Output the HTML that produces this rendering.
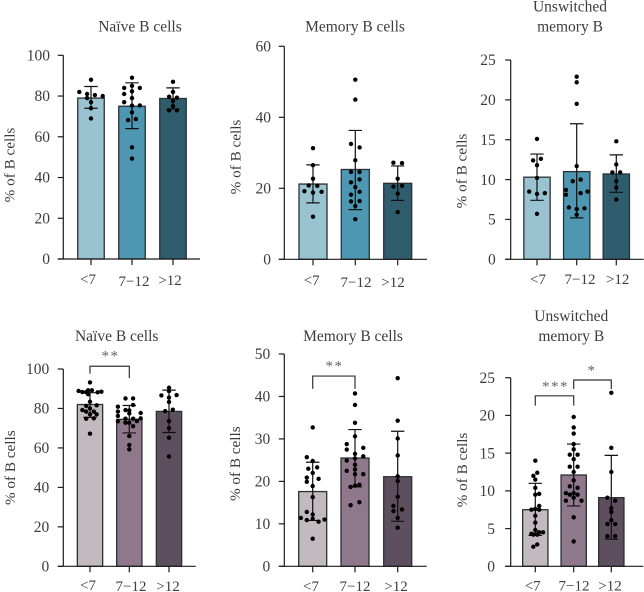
<!DOCTYPE html>
<html>
<head>
<meta charset="utf-8">
<title>B cell subsets by age group</title>
<style>
html,body{margin:0;padding:0;background:#fff;width:644px;height:592px;overflow:hidden}
svg{display:block}
text{font-family:"Liberation Serif",serif;fill:#3c3c3c}
</style>
</head>
<body>
<svg id="figure" width="644" height="592" viewBox="0 0 644 592" xmlns="http://www.w3.org/2000/svg"></svg>
<script>
const categories = ['<7', '7\u221212', '>12'];

const topNaiveTicks = [0, 20, 40, 60, 80, 100];
const topNaiveMeans = [79, 75, 78.8];
const topNaiveLow = [74, 64, 73.6];
const topNaiveHigh = [84.7, 86.5, 84];
const topNaiveValuesA = [88, 82, 81, 80.5, 80, 79, 77, 74, 69];
const topNaiveSlotsA = [0, -3, -1, 1, 3, -1, 0, 0, 0];
const topNaiveValuesB = [89, 85, 84, 84, 82.3, 81, 79, 77, 75.4, 75.3, 72, 68.7, 68.2, 54.8, 49.3];
const topNaiveSlotsB = [0, 0, -2, 2, 0, -2, 0, -2, 2, 0, 0, 1, -1, 0, 0];
const topNaiveValuesC = [87, 82, 79.7, 79.2, 77.6, 75, 73, 73];
const topNaiveSlotsC = [0, 0, -1, 1, 0, 0, -1, 1];

const topMemoryTicks = [0, 20, 40, 60];
const topMemoryMeans = [21.2, 25.3, 21.4];
const topMemoryLow = [15.9, 14, 16.6];
const topMemoryHigh = [26.6, 36.3, 26.3];
const topMemoryValuesA = [31.3, 26.5, 22.7, 20.8, 20.7, 19.2, 19, 18.8, 12];
const topMemorySlotsA = [0, 0, 0, -1, 1, -2, 2, 0, 0];
const topMemoryValuesB = [50.6, 45, 32.5, 31.5, 27.9, 24.6, 24.6, 22.5, 21.7, 20.3, 19, 18.2, 16.4, 16.3, 15, 11.3];
const topMemorySlotsB = [0, 0, -1, 1, 0, -1, 1, 1, -1, 0, 1, -1, 1, -1, 0, 0];
const topMemoryValuesC = [27.2, 27.1, 22.7, 20.7, 20.5, 18.5, 13.3];
const topMemorySlotsC = [-1, 1, 0, 1, -1, 0, 0];

const topUnswitchedTicks = [0, 5, 10, 15, 20, 25];
const topUnswitchedMeans = [10.3, 11, 10.7];
const topUnswitchedLow = [7.4, 5.2, 8.4];
const topUnswitchedHigh = [13.2, 17, 13.1];
const topUnswitchedValuesA = [15.1, 12.6, 12.4, 11.8, 10.2, 8.5, 8.3, 8.2, 5.7];
const topUnswitchedSlotsA = [0, 1, -1, 0, 0, -2, 2, 0, 0];
const topUnswitchedValuesB = [22.9, 22.2, 19.5, 11.7, 10, 9.8, 8.7, 8.5, 8.3, 8.1, 6.5, 6.4, 6.3, 5.6];
const topUnswitchedSlotsB = [0, 0, 0, 0, 1, -1, -2.75, 2.75, 1, -2.75, -2, 2, 0, 0];
const topUnswitchedValuesC = [14.8, 11.9, 10.9, 10.9, 9.8, 9, 7.5];
const topUnswitchedSlotsC = [0, 0, -1, 1, 0, 0, 0];

const bottomNaiveTicks = [0, 20, 40, 60, 80, 100];
const bottomNaiveMeans = [82, 74.5, 78.5];
const bottomNaiveLow = [75.5, 67.6, 67.8];
const bottomNaiveHigh = [88, 81.5, 89.3];
const bottomNaiveValuesA = [93.2, 89.2, 89.2, 88.9, 88.5, 88.3, 88.3, 88.2, 87.2, 83.4, 81.6, 81.3, 80, 79.2, 78.4, 78.4, 77, 77, 75, 74.8, 67.2];
const bottomNaiveSlotsA = [0, -0.5, 0.5, -3, 3, -2, -1, 2, -0.5, 0, 1.75, -1, 0, -2, -1, 1, 0, 1.75, 1, -1, 0];
const bottomNaiveValuesB = [85.1, 85.1, 81.8, 80.9, 79.2, 79, 78.4, 77.7, 77.5, 76.2, 75, 74.8, 74.8, 73.6, 73.5, 72.8, 72.8, 71, 66, 61.5, 59.3];
const bottomNaiveSlotsB = [-1, 1, 1, -3, -1, 0, -3, 3, 0, -3, 3, -1, 1, 2, -3, -1, 0, 1, 0, 0, 0];
const bottomNaiveValuesC = [90.5, 88.8, 86.8, 86.6, 85.5, 83.3, 79.4, 78.7, 73.6, 70, 65.2, 55.7];
const bottomNaiveSlotsC = [0, 0, 2, -2, 0, 0, 1, -1, 0, 0, 0, 0];

const bottomMemoryTicks = [0, 10, 20, 30, 40, 50];
const bottomMemoryMeans = [17.6, 25.5, 21.1];
const bottomMemoryLow = [10.8, 18.7, 10.6];
const bottomMemoryHigh = [24.5, 32.2, 31.8];
const bottomMemoryValuesA = [32.7, 25.7, 24.8, 23.3, 23, 22, 20.9, 20.6, 19.9, 18.9, 16.3, 12.8, 12.2, 11.4, 11.2, 11, 10.9, 10.5, 6.5];
const bottomMemorySlotsA = [0, -1, 0, 0.75, -0.75, 0, -1, 1, -1, 0, 0, -1, 0, -2, 0, 2, -1, 1, 0];
const bottomMemoryValuesB = [40.7, 38, 33.8, 30.6, 28.8, 27.9, 27.5, 26.5, 25.9, 25.4, 24.9, 23.9, 22.8, 22.5, 21.7, 21.7, 19.2, 19, 18.7, 15.1, 14.4];
const bottomMemorySlotsB = [0, 0, 0, 0, -1.4, 1.4, -1.4, 0, 1.4, 0, -1.4, 0, 0, -1.4, 0, 1.4, 0.75, 0, -0.75, 0.75, -0.75];
const bottomMemoryValuesC = [44.3, 34.3, 30.1, 26.1, 21.2, 20.1, 16.4, 14.2, 13.4, 13, 11.4, 9.1];
const bottomMemorySlotsC = [0, 0, 0, 0, 0, 0, 0, -0.73, 0.73, -0.73, 0, 0];

const bottomUnswitchedTicks = [0, 5, 10, 15, 20, 25];
const bottomUnswitchedMeans = [7.5, 12.1, 9.1];
const bottomUnswitchedLow = [4.1, 8, 3.6];
const bottomUnswitchedHigh = [11, 16.2, 14.7];
const bottomUnswitchedValuesA = [14, 12.4, 12, 11.5, 10.4, 9.6, 9.5, 8, 7.6, 7.5, 7.5, 6.7, 5.8, 4.8, 4.5, 4.5, 4.3, 4.2, 4.2, 2.9, 2.6];
const bottomUnswitchedSlotsA = [0, 0.5, -0.5, 0, 0, 1, 0, 1, 0, -1, 1, 0, 0, 0, 1, 2, -1, -0.5, 0.5, 0.5, -0.5];
const bottomUnswitchedValuesB = [19.8, 18.4, 17.6, 16.2, 15.5, 14.8, 14.8, 14.2, 13.2, 13.2, 12.5, 11.4, 10.6, 10.4, 9.7, 9.7, 9.5, 9.5, 9.1, 8.7, 8.7, 6.5, 3.3];
const bottomUnswitchedSlotsB = [0, 0, 0, 0, 0, -1, 1, 0, -1, 1, 0, 0, -1, 1, 0, -2, -1, 1, 0, -2, 2, 0, 0];
const bottomUnswitchedValuesC = [23, 15.7, 12.5, 9.1, 8.7, 7.7, 7.2, 6.1, 5.6, 5.6, 4, 4];
const bottomUnswitchedSlotsC = [0, 0, 0, -1, 1, 0, 0, 0, -1, 1, -1, 1];

const bottomNaiveBracketTop = [101.4];
const bottomNaiveBracketFootL = [97.6];
const bottomNaiveBracketFootR = [95.4];
const bottomMemoryBracketTop = [44.8];
const bottomMemoryBracketFootL = [41.8];
const bottomMemoryBracketFootR = [41.8];
const bottomUnswitchedBracketTop = [22.6, 24.7];
const bottomUnswitchedBracketFootL = [21.3, 23.5];
const bottomUnswitchedBracketFootR = [21.3, 23.5];

const tealFills = ['#9ac3d2', '#4e97b3', '#2f5d6e'];
const mauveFills = ['#c2babe', '#8f778c', '#5e4f5f'];

const panels = [
  {id:'naive-top', title:['Na\u00efve B cells'], titleX:140, titleY:31.7, axisX:63.3, xEnd:200, y0:259, yTop:55.3, max:100, ticks:topNaiveTicks,
   centers:[91,132,173], barW:26.5, labelX:[88,134,170], labelY:[284,286,285], tickLabelX:50, yTitleX:14.5, yTitleY:165,
   fills:tealFills, means:topNaiveMeans, low:topNaiveLow, high:topNaiveHigh,
   values:[topNaiveValuesA,topNaiveValuesB,topNaiveValuesC], slots:[topNaiveSlotsA,topNaiveSlotsB,topNaiveSlotsC], slotW:3.9, brackets:[]},
  {id:'memory-top', title:['Memory B cells'], titleX:355, titleY:31.7, axisX:284.3, xEnd:427, y0:259.3, yTop:46.3, max:60, ticks:topMemoryTicks,
   centers:[313,355.3,397.7], barW:28, labelX:[311.7,356,393], labelY:[285,287,287], tickLabelX:271, yTitleX:240.5, yTitleY:157,
   fills:tealFills, means:topMemoryMeans, low:topMemoryLow, high:topMemoryHigh,
   values:[topMemoryValuesA,topMemoryValuesB,topMemoryValuesC], slots:[topMemorySlotsA,topMemorySlotsB,topMemorySlotsC], slotW:4.3, brackets:[]},
  {id:'unswitched-top', title:['Unswitched','memory B'], titleX:570, titleY:31.7, axisX:510.7, xEnd:643.7, y0:259.3, yTop:60, max:25, ticks:topUnswitchedTicks,
   centers:[537,576.7,616.3], barW:26.3, labelX:[538,580,617.7], labelY:[284,284,284], tickLabelX:495.7, yTitleX:466.5, yTitleY:171,
   fills:tealFills, means:topUnswitchedMeans, low:topUnswitchedLow, high:topUnswitchedHigh,
   values:[topUnswitchedValuesA,topUnswitchedValuesB,topUnswitchedValuesC], slots:[topUnswitchedSlotsA,topUnswitchedSlotsB,topUnswitchedSlotsC], slotW:3.9, brackets:[]},
  {id:'naive-bottom', title:['Na\u00efve B cells'], titleX:116.7, titleY:341, axisX:63.3, xEnd:195.7, y0:566.3, yTop:369, max:100, ticks:bottomNaiveTicks,
   centers:[90,129.3,169], barW:25.3, labelX:[88,131,168], labelY:[590,591,591], tickLabelX:49.3, yTitleX:15, yTitleY:467.7,
   fills:mauveFills, means:bottomNaiveMeans, low:bottomNaiveLow, high:bottomNaiveHigh,
   values:[bottomNaiveValuesA,bottomNaiveValuesB,bottomNaiveValuesC], slots:[bottomNaiveSlotsA,bottomNaiveSlotsB,bottomNaiveSlotsC], slotW:3.8,
   brackets:[{a:0,b:1,top:bottomNaiveBracketTop[0],l:bottomNaiveBracketFootL[0],r:bottomNaiveBracketFootR[0],stars:'**',sx:110.5,sy:360.5}]},
  {id:'memory-bottom', title:['Memory B cells'], titleX:353, titleY:341, axisX:284.3, xEnd:426.7, y0:566.3, yTop:354, max:50, ticks:bottomMemoryTicks,
   centers:[312.7,355,397.7], barW:28, labelX:[311,355,396], labelY:[591,591,591], tickLabelX:270.3, yTitleX:240, yTitleY:463.7,
   fills:mauveFills, means:bottomMemoryMeans, low:bottomMemoryLow, high:bottomMemoryHigh,
   values:[bottomMemoryValuesA,bottomMemoryValuesB,bottomMemoryValuesC], slots:[bottomMemorySlotsA,bottomMemorySlotsB,bottomMemorySlotsC], slotW:5.9,
   brackets:[{a:0,b:1,top:bottomMemoryBracketTop[0],l:bottomMemoryBracketFootL[0],r:bottomMemoryBracketFootR[0],stars:'**',sx:334.5,sy:370.5}]},
  {id:'unswitched-bottom', title:['Unswitched','memory B'], titleX:571.3, titleY:341, axisX:510.7, xEnd:643.3, y0:566.3, yTop:377.7, max:25, ticks:bottomUnswitchedTicks,
   centers:[535.3,573.7,611.3], barW:25.3, labelX:[532.7,574,610], labelY:[590.7,590.7,590.7], tickLabelX:495, yTitleX:467, yTitleY:470,
   fills:mauveFills, means:bottomUnswitchedMeans, low:bottomUnswitchedLow, high:bottomUnswitchedHigh,
   values:[bottomUnswitchedValuesA,bottomUnswitchedValuesB,bottomUnswitchedValuesC], slots:[bottomUnswitchedSlotsA,bottomUnswitchedSlotsB,bottomUnswitchedSlotsC], slotW:3.9,
   brackets:[{a:0,b:1,top:bottomUnswitchedBracketTop[0],l:bottomUnswitchedBracketFootL[0],r:bottomUnswitchedBracketFootR[0],stars:'***',sx:555.5,sy:391},
             {a:1,b:2,top:bottomUnswitchedBracketTop[1],l:bottomUnswitchedBracketFootL[1],r:bottomUnswitchedBracketFootR[1],stars:'*',sx:592,sy:375}]}
];

const svg = document.getElementById('figure');
const NS = 'http://www.w3.org/2000/svg';

function make(parent, tag, attrs) {
  const el = document.createElementNS(NS, tag);
  for (const k in attrs) el.setAttribute(k, attrs[k]);
  parent.appendChild(el);
  return el;
}

function drawPanel(p) {
  const yScale = v => p.y0 - (v / p.max) * (p.y0 - p.yTop);
  const xBand = i => p.centers[i];
  const ink = '#1c1c1c';

  const g = make(svg, 'g', {});
  
  

  p.title.forEach((line, i) => {
    const t = make(g, 'text', {x:p.titleX, y:p.titleY - (p.title.length - 1 - i) * 20, 'text-anchor':'middle', 'font-size':15.5});
    
    
    t.textContent = line;
  });

  const yt = make(g, 'text', {x:0, y:0, 'text-anchor':'middle', 'font-size':15.2, transform:`translate(${p.yTitleX},${p.yTitleY}) rotate(-90)`});
  
  
  yt.textContent = '% of B cells';

  categories.forEach((c, i) => {
    const bar = make(g, 'rect', {x:xBand(i) - p.barW / 2, y:yScale(p.means[i]), width:p.barW, height:p.y0 - yScale(p.means[i]), fill:p.fills[i], stroke:'#2b3033', 'stroke-width':1.3});
    
    
  });

  categories.forEach((c, i) => {
    const err = make(g, 'path', {
      d:`M${xBand(i)} ${yScale(p.low[i])}V${yScale(p.high[i])}M${xBand(i) - 6.7} ${yScale(p.low[i])}h13.4M${xBand(i) - 6.7} ${yScale(p.high[i])}h13.4`,
      fill:'none', stroke:'#111', 'stroke-width':1.2});
    
    
  });

  categories.forEach((c, i) => {
    p.values[i].forEach((v, j) => {
      const dot = make(g, 'circle', {cx:xBand(i) + p.slots[i][j] * p.slotW, cy:yScale(v), r:2.2, fill:'#000'});
      
      
    });
  });

  const yAxis = make(g, 'path', {d:`M${p.axisX} ${p.y0}V${p.yTop}`, stroke:ink, 'stroke-width':1.2, fill:'none'});
  
  

  const xAxis = make(g, 'path', {d:`M${p.axisX - 5.5} ${p.y0}H${p.xEnd}`, stroke:ink, 'stroke-width':1.2, fill:'none'});
  
  

  p.ticks.forEach(v => {
    const tick = make(g, 'line', {x1:p.axisX - 5.5, x2:p.axisX, y1:yScale(v), y2:yScale(v), stroke:ink, 'stroke-width':1.2});
    
    
    const lab = make(g, 'text', {x:p.tickLabelX, y:yScale(v) + 5.2, 'text-anchor':'end', 'font-size':15.5});
    
    
    lab.textContent = v;
  });

  categories.forEach((c, i) => {
    const tick = make(g, 'line', {x1:xBand(i), x2:xBand(i), y1:p.y0, y2:p.y0 + 6, stroke:ink, 'stroke-width':1.2});
    
    
    const lab = make(g, 'text', {x:p.labelX[i], y:p.labelY[i], 'text-anchor':'middle', 'font-size':15});
    
    
    lab.textContent = c;
  });

  p.brackets.forEach(b => {
    const br = make(g, 'path', {
      d:`M${xBand(b.a)} ${yScale(b.l)}V${yScale(b.top)}H${xBand(b.b)}V${yScale(b.r)}`,
      fill:'none', stroke:'#333', 'stroke-width':1.2});
    
    
    const st = make(g, 'text', {x:b.sx, y:b.sy, 'text-anchor':'middle', 'font-size':15, 'letter-spacing':'1.5px', style:'fill:#666'});
    
    
    st.textContent = b.stars;
  });
}

panels.forEach(drawPanel);
</script>
</body>
</html>
